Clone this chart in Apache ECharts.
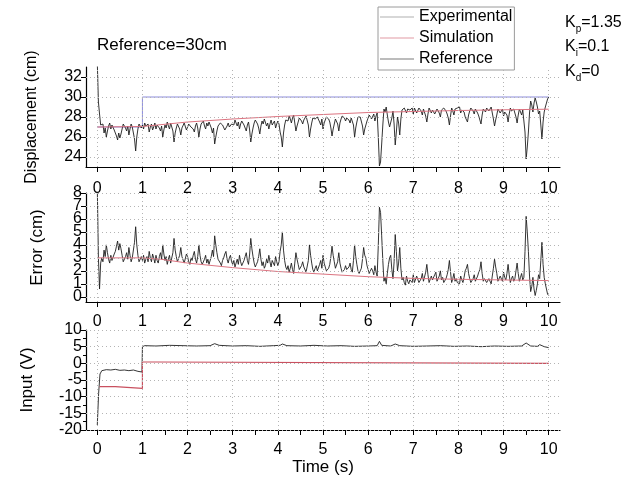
<!DOCTYPE html>
<html><head><meta charset="utf-8">
<script src="https://cdn.jsdelivr.net/npm/echarts@6/dist/echarts.min.js"></script>
<style>html,body{margin:0;padding:0;background:#fff}#c{width:637px;height:477px}</style>
</head><body><div id="c"></div>
<script>
// ---- data ----
const sampleStep = 0.025; // seconds between experimental samples
const dispExp = [
 33.5,29.5,28.3,27.2,27.0, 27.3,26.4,26.9,26.0,26.6, 27.1,27.4,26.8,27.2,27.3, 26.7,26.5,26.1,25.7,26.4, 25.9,26.3,26.8,27.3,27.2, 26.9,26.6,27.1,26.2,26.8, 27.3,27.0,26.9,25.8,24.6, 26.0,26.8,27.3,27.4,26.9,
 27.2,26.8,27.4,27.1,26.9, 27.3,26.5,27.0,27.3,26.7, 27.0,27.4,26.8,27.2,27.4, 26.9,26.6,27.1,26.0,26.7, 27.2,26.9,27.5,27.1,26.8, 27.4,27.3,26.6,25.5,26.4, 26.9,27.3,27.4,26.8,26.2, 26.9,27.0,27.4,27.3,26.7,
 26.9,27.3,27.5,27.0,27.2, 26.8,26.5,27.1,27.4,26.9, 26.0,26.8,27.3,27.5,27.6, 27.1,26.8,27.4,27.1,27.5, 27.5,26.9,26.4,26.9,25.3, 26.0,26.6,27.1,27.2,27.4, 27.6,27.2,27.0,26.7,26.5, 27.1,27.4,27.0,26.8,27.3,
 27.5,27.2,27.7,27.4,27.1, 27.5,26.8,27.3,27.6,27.4, 27.2,26.9,26.6,27.2,27.5, 26.7,25.5,26.3,26.9,27.4, 27.7,27.5,27.3,26.9,26.3, 27.1,27.6,27.3,27.8,27.6, 27.1,27.4,26.8,27.3,27.7, 27.2,27.4,27.6,26.9,27.3,
 27.6,27.3,26.5,26.0,25.0, 26.4,27.2,27.7,27.9,27.6, 28.1,27.8,27.4,27.9,28.2, 27.4,26.6,27.1,27.5,27.9, 28.0,27.6,27.3,27.7,27.8, 28.1,28.2,27.2,26.0,26.8, 27.4,27.9,28.1,27.8,27.6, 28.0,28.0,27.5,27.2,27.8,
 26.8,27.4,27.7,28.0,28.1, 27.8,27.5,26.9,26.1,26.8, 27.3,27.8,27.9,27.3,26.6, 27.4,27.8,28.1,28.2,27.9, 27.6,27.9,28.0,27.7,27.4, 27.9,28.1,27.2,26.0,26.9, 27.5,28.0,28.2,28.0,27.8, 27.1,26.2,26.8,27.0,27.6,
 27.9,28.2,28.3,27.8,28.0, 28.3,27.6,28.1,28.4,26.0, 23.1,23.5,25.3,27.2,28.8, 28.5,29.0,28.2,27.5,27.0, 26.8,27.9,28.6,27.3,25.2, 26.5,28.0,27.4,26.2,27.8, 28.7,28.5,28.9,29.1,28.4, 28.8,29.0,28.7,28.6,28.9,
 28.3,28.9,28.8,28.4,28.5, 28.9,29.0,28.6,28.2,28.8, 28.7,28.1,27.5,28.3,28.9, 29.0,28.4,28.7,28.8,28.3, 28.1,28.8,28.6,28.4,28.0, 28.7,28.5,28.9,28.9,28.6, 28.3,27.9,27.2,28.1,28.9, 28.6,28.2,28.8,28.6,28.9,
 28.8,29.0,28.4,28.7,28.9, 28.5,28.0,27.8,27.5,28.2, 28.6,28.9,29.0,28.6,28.3, 28.8,28.7,28.4,28.1,27.9, 27.3,28.2,28.8,28.6,28.5, 28.9,28.9,28.6,28.7,29.0, 28.4,27.8,27.1,27.7,28.2, 28.8,28.9,28.4,28.5,28.8,
 28.1,28.5,28.7,28.2,27.5, 28.3,28.9,28.6,28.4,28.8, 28.6,28.0,27.4,28.2,28.8, 28.5,28.2,28.7,28.5,26.5, 23.8,25.0,26.5,28.4,29.6, 29.2,28.5,29.4,29.9,29.5, 29.0,28.3,28.6,27.2,25.8, 27.5,28.5,29.0,29.4,29.8,
 30.0
];
const errExp = [
 8.5,3.0,0.6,2.6,3.0, 2.7,3.6,3.1,4.0,3.4, 2.9,2.6,3.2,2.8,2.7, 3.3,3.5,3.9,4.3,3.6, 4.1,3.7,3.2,2.7,2.8, 3.1,3.4,2.9,3.8,3.2, 2.7,3.0,3.1,4.2,5.4, 4.0,3.2,2.7,2.6,3.1,
 2.8,3.2,2.6,2.9,3.1, 2.7,3.5,3.0,2.7,3.3, 3.0,2.6,3.2,2.8,2.6, 3.1,3.4,2.9,4.0,3.3, 2.8,3.1,2.5,2.9,3.2, 2.6,2.7,3.4,4.5,3.6, 3.1,2.7,2.6,3.2,3.8, 3.1,3.0,2.6,2.7,3.3,
 3.1,2.7,2.5,3.0,2.8, 3.2,3.5,2.9,2.6,3.1, 4.0,3.2,2.7,2.5,2.4, 2.9,3.2,2.6,2.9,2.5, 2.5,3.1,3.6,3.1,4.7, 4.0,3.4,2.9,2.8,2.6, 2.4,2.8,3.0,3.3,3.5, 2.9,2.6,3.0,3.2,2.7,
 2.5,2.8,2.3,2.6,2.9, 2.5,3.2,2.7,2.4,2.6, 2.8,3.1,3.4,2.8,2.5, 3.3,4.5,3.7,3.1,2.6, 2.3,2.5,2.7,3.1,3.7, 2.9,2.4,2.7,2.2,2.4, 2.9,2.6,3.2,2.7,2.3, 2.8,2.6,2.4,3.1,2.7,
 2.4,2.7,3.5,4.0,5.0, 3.6,2.8,2.3,2.1,2.4, 1.9,2.2,2.6,2.1,1.8, 2.6,3.4,2.9,2.5,2.1, 2.0,2.4,2.7,2.3,2.2, 1.9,1.8,2.8,4.0,3.2, 2.6,2.1,1.9,2.2,2.4, 2.0,2.0,2.5,2.8,2.2,
 3.2,2.6,2.3,2.0,1.9, 2.2,2.5,3.1,3.9,3.2, 2.7,2.2,2.1,2.7,3.4, 2.6,2.2,1.9,1.8,2.1, 2.4,2.1,2.0,2.3,2.6, 2.1,1.9,2.8,4.0,3.1, 2.5,2.0,1.8,2.0,2.2, 2.9,3.8,3.2,3.0,2.4,
 2.1,1.8,1.7,2.2,2.0, 1.7,2.4,1.9,1.6,4.0, 6.9,6.5,4.7,2.8,1.2, 1.5,1.0,1.8,2.5,3.0, 3.2,2.1,1.4,2.7,4.8, 3.5,2.0,2.6,3.8,2.2, 1.3,1.5,1.1,0.9,1.6, 1.2,1.0,1.3,1.4,1.1,
 1.7,1.1,1.2,1.6,1.5, 1.1,1.0,1.4,1.8,1.2, 1.3,1.9,2.5,1.7,1.1, 1.0,1.6,1.3,1.2,1.7, 1.9,1.2,1.4,1.6,2.0, 1.3,1.5,1.1,1.1,1.4, 1.7,2.1,2.8,1.9,1.1, 1.4,1.8,1.2,1.4,1.1,
 1.2,1.0,1.6,1.3,1.1, 1.5,2.0,2.2,2.5,1.8, 1.4,1.1,1.0,1.4,1.7, 1.2,1.3,1.6,1.9,2.1, 2.7,1.8,1.2,1.4,1.5, 1.1,1.1,1.4,1.3,1.0, 1.6,2.2,2.9,2.3,1.8, 1.2,1.1,1.6,1.5,1.2,
 1.9,1.5,1.3,1.8,2.5, 1.7,1.1,1.4,1.6,1.2, 1.4,2.0,2.6,1.8,1.2, 1.5,1.8,1.3,1.5,3.5, 6.2,5.0,3.5,1.6,0.4, 0.8,1.5,0.6,0.1,0.5, 1.0,1.7,1.4,2.8,4.2, 2.5,1.5,1.0,0.6,0.2,
 0.1
];
const dispSimT = [0, 1, 2, 3, 4, 5, 6, 7, 8, 9, 10];
const dispSimV = [27.0, 27.05, 27.5, 27.8, 28.05, 28.25, 28.45, 28.55, 28.65, 28.72, 28.78];
const refT = [0, 1, 1, 10];
const refV = [27.0, 27.0, 30.0, 30.0];
const errSimT = [0, 1, 1.4, 2, 3, 4, 5, 6, 7, 8, 9, 10];
const errSimV = [3.0, 3.0, 2.9, 2.6, 2.25, 1.95, 1.75, 1.55, 1.42, 1.35, 1.3, 1.25];
const inExpT = [0, 0.03, 0.06, 0.1, 0.2, 0.3, 0.4, 0.5, 0.6, 0.7, 0.8, 0.9, 0.99, 1.0, 1.05, 1.3, 1.6, 1.9, 2.2, 2.5, 2.6, 2.7, 3.0, 3.3, 3.6, 3.9, 4.05, 4.1, 4.2, 4.5, 4.8, 5.1, 5.4, 5.7, 6.0, 6.2, 6.25, 6.3, 6.5, 6.6, 6.7, 7.0, 7.3, 7.6, 7.9, 8.2, 8.5, 8.8, 9.1, 9.4, 9.5, 9.6, 9.75, 9.8, 9.9, 10.0];
const inExpV = [-18.5, -9, -3.2, -2.2, -1.9, -2.0, -1.8, -2.1, -2.0, -2.2, -2.0, -2.4, -2.6, 5.0, 5.3, 5.2, 5.4, 5.3, 5.2, 5.3, 5.9, 5.4, 5.2, 5.3, 5.1, 5.3, 5.4, 5.8, 5.3, 5.2, 5.4, 5.2, 5.3, 5.1, 5.2, 5.3, 6.6, 5.4, 5.2, 5.8, 5.3, 5.1, 5.2, 5.3, 5.1, 5.2, 5.0, 5.2, 5.1, 5.2, 6.1, 5.2, 5.1, 5.6, 5.0, 4.7];
const inSimT = [0.05, 0.4, 0.4, 1.0, 1.0, 1.3, 1.3, 10];
const inSimV = [-7.0, -7.0, -7.5, -7.5, 0.4, 0.4, 0, 0];
const xTicks = [0, 1, 2, 3, 4, 5, 6, 7, 8, 9, 10];
const xHalfTicks = [0, 0.5, 1, 1.5, 2, 2.5, 3, 3.5, 4, 4.5, 5, 5.5, 6, 6.5, 7, 7.5, 8, 8.5, 9, 9.5, 10];
const dispTicks = [24, 26, 28, 30, 32];
const errTicks = [0, 1, 2, 3, 4, 5, 6, 7, 8];
const errLabelsEven = [0, 2, 4, 6, 8];
const errLabelsOdd = [1, 3, 5, 7];
const inTicks = [-20, -15, -10, -5, 0, 5, 10];
const legendNames = ['Experimental', 'Simulation', 'Reference'];

// ---- chart ----
const FONT = 'Liberation Sans, Arial, sans-serif';
const C_EXP = '#1e1e1e', C_SIM = '#dc7380', C_SIM_IN = '#c9505f', C_REF = '#8c8cdc';
const pairs = (t, v) => t.map((x, i) => [x, v[i]]);
const dispT = dispExp.map((_, i) => +(i * sampleStep).toFixed(3));

const grids = [
  {left: 86, top: 67, width: 474, height: 100},
  {left: 86, top: 193, width: 474, height: 109},
  {left: 86, top: 330, width: 474, height: 100}
];
const axLine = {show: true, onZero: false, lineStyle: {color: '#000', width: 1.2}};
const lbl = {color: '#000', fontSize: 16, fontFamily: FONT};

const xAxes = [];
[0, 1, 2].forEach(g => {
  xAxes.push({gridIndex: g, type: 'value', min: -0.25, max: 10.25, position: 'bottom',
    axisLine: axLine,
    axisTick: {show: false, customValues: xTicks},
    axisLabel: Object.assign({customValues: xTicks, margin: g === 0 ? 14 : 12}, lbl),
    splitLine: {show: false},
    name: g === 2 ? 'Time (s)' : '', nameLocation: 'middle', nameGap: 27,
    nameTextStyle: {color: '#000', fontSize: 17, fontFamily: FONT}
  });
});
[0, 1, 2].forEach(g => {
  xAxes.push({gridIndex: g, type: 'value', min: -0.25, max: 10.25, position: 'bottom',
    axisLine: {show: false, onZero: false},
    axisTick: {show: true, customValues: xHalfTicks, length: 5, lineStyle: {color: '#000'}},
    axisLabel: {show: false}, splitLine: {show: false}
  });
});

const yName = {color: '#000', fontFamily: FONT};
const yAxes = [
  {gridIndex: 0, type: 'value', min: 23, max: 33, axisLine: axLine,
   axisTick: {customValues: dispTicks, length: 5, lineStyle: {color: '#000'}},
   axisLabel: Object.assign({customValues: dispTicks, margin: 4, showMinLabel: true, showMaxLabel: true}, lbl),
   splitLine: {show: false},
   name: 'Displacement (cm)', nameLocation: 'middle', nameGap: 46, nameTextStyle: Object.assign({fontSize: 16}, yName)},
  {gridIndex: 1, type: 'value', min: -0.4, max: 8, axisLine: axLine,
   axisTick: {customValues: errTicks, length: 5, lineStyle: {color: '#000'}},
   axisLabel: Object.assign({customValues: errLabelsEven, margin: 4, showMinLabel: true, showMaxLabel: true}, lbl),
   splitLine: {show: false},
   name: 'Error (cm)', nameLocation: 'middle', nameGap: 40, nameTextStyle: Object.assign({fontSize: 17}, yName)},
  {gridIndex: 2, type: 'value', min: -20, max: 10, interval: 5, axisLine: axLine,
   axisTick: {length: 5, lineStyle: {color: '#000'}},
   minorTick: {show: true, splitNumber: 2, length: 3, lineStyle: {color: '#000'}},
   axisLabel: Object.assign({margin: 4, showMinLabel: true, showMaxLabel: true}, lbl),
   splitLine: {show: false},
   name: 'Input (V)', nameLocation: 'middle', nameGap: 50, nameTextStyle: Object.assign({fontSize: 17}, yName)},
  // odd error labels on a twin axis so the tightly packed labels are all kept
  {gridIndex: 1, type: 'value', min: -0.4, max: 8, position: 'left', offset: 0,
   axisLine: {show: false, onZero: false}, axisTick: {show: false},
   axisLabel: Object.assign({customValues: errLabelsOdd, margin: 4, showMinLabel: true, showMaxLabel: true}, lbl),
   splitLine: {show: false}}
];

function line(name, xi, yi, data, color, w) {
  return {name, type: 'line', xAxisIndex: xi, yAxisIndex: yi, data, symbol: 'none', showSymbol: false,
    clip: true, animation: false, z: 3, lineStyle: {color, width: w}, itemStyle: {color}};
}
// dotted grid lines drawn through the axes' scales
function gridLines(g, yTicks) {
  return {type: 'line', xAxisIndex: g, yAxisIndex: g, data: [], z: 1, silent: true, animation: false,
    markLine: {silent: true, animation: false, symbol: ['none', 'none'], label: {show: false},
      lineStyle: {color: '#b4b4b4', type: [1, 3], width: 1},
      emphasis: {disabled: true},
      data: xTicks.map(v => ({xAxis: v})).concat(yTicks.map(v => ({yAxis: v})))}};
}

const subRich = {
  k: {fontSize: 16, lineHeight: 22, color: '#000', fontFamily: FONT, fontWeight: 'normal'},
  s: {fontSize: 10, verticalAlign: 'bottom', color: '#000', fontFamily: FONT, fontWeight: 'normal'}
};

const option = {
  animation: false,
  backgroundColor: '#fff',
  grid: grids,
  xAxis: xAxes,
  yAxis: yAxes,
  title: [
    {text: 'Reference=30cm', left: 97, top: 37, padding: 0, textStyle: {fontSize: 17, fontWeight: 'normal', color: '#000', fontFamily: FONT}},
    {text: '{k|K}{s|p}{k|=1.35}', left: 565, top: 12, padding: 0, textStyle: {fontWeight: 'normal', rich: subRich}},
    {text: '{k|K}{s|i}{k|=0.1}', left: 565, top: 36, padding: 0, textStyle: {fontWeight: 'normal', rich: subRich}},
    {text: '{k|K}{s|d}{k|=0}', left: 565, top: 61, padding: 0, textStyle: {fontWeight: 'normal', rich: subRich}}
  ],
  legend: {
    orient: 'vertical', left: 378, top: 7, icon: 'rect', itemWidth: 34, itemHeight: 1, itemGap: 5,
    padding: [2, 2, 3, 2], borderColor: '#9a9a9a', borderWidth: 1, backgroundColor: '#fff',
    textStyle: {fontSize: 16, lineHeight: 14, color: '#000', fontFamily: FONT},
    data: [
      {name: legendNames[0], itemStyle: {color: '#b0b0b0'}},
      {name: legendNames[1], itemStyle: {color: '#e29aa4'}},
      {name: legendNames[2], itemStyle: {color: '#7a7a7a'}}
    ]
  },
  series: [
    gridLines(0, dispTicks),
    gridLines(1, errTicks),
    gridLines(2, inTicks),
    line(legendNames[2], 0, 0, pairs(refT, refV), C_REF, 1),
    line(legendNames[0], 0, 0, pairs(dispT, dispExp), C_EXP, 0.9),
    line(legendNames[1], 0, 0, pairs(dispSimT, dispSimV), C_SIM, 1),
    line(legendNames[0], 1, 1, pairs(dispT, errExp), C_EXP, 0.9),
    line(legendNames[1], 1, 1, pairs(errSimT, errSimV), C_SIM, 1),
    line(legendNames[0], 2, 2, pairs(inExpT, inExpV), C_EXP, 0.9),
    line(legendNames[1], 2, 2, pairs(inSimT, inSimV), C_SIM_IN, 1.2)
  ]
};
echarts.init(document.getElementById('c'), null, {renderer: 'canvas'}).setOption(option);
</script>
</body></html>
